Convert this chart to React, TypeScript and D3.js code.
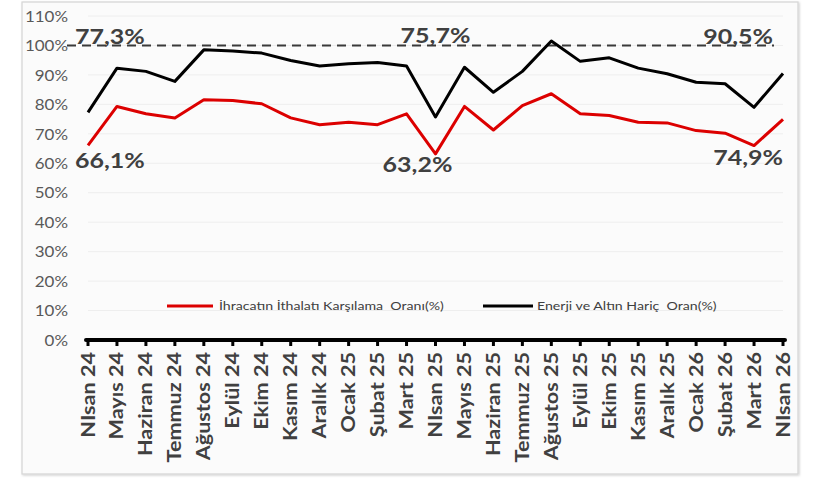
import React from "react";
import * as d3 from "d3";

const categories = [
  "NIsan 24", "Mayıs 24", "Haziran 24", "Temmuz 24", "Ağustos 24", "Eylül 24",
  "Ekim 24", "Kasım 24", "Aralık 24", "Ocak 25", "Şubat 25", "Mart 25",
  "NIsan 25", "Mayıs 25", "Haziran 25", "Temmuz 25", "Ağustos 25", "Eylül 25",
  "Ekim 25", "Kasım 25", "Aralık 25", "Ocak 26", "Şubat 26", "Mart 26", "NIsan 26",
];

const ihracatOrani = [
  66.1, 79.3, 76.8, 75.4, 81.6, 81.3, 80.2, 75.4, 73.1, 73.9, 73.1, 76.8,
  63.2, 79.3, 71.3, 79.6, 83.6, 76.8, 76.2, 73.9, 73.7, 71.1, 70.2, 66.0, 74.9,
];

const enerjiAltinHaricOrani = [
  77.3, 92.3, 91.2, 87.8, 98.5, 98.1, 97.4, 94.9, 93.0, 93.8, 94.2, 93.0,
  75.7, 92.6, 84.1, 91.2, 101.5, 94.6, 95.8, 92.3, 90.4, 87.5, 87.0, 79.0, 90.5,
];

const yTicks = [0, 10, 20, 30, 40, 50, 60, 70, 80, 90, 100, 110];
const referenceLevel = 100;

const seriesNames = ["İhracatın İthalatı Karşılama  Oranı(%)", "Enerji ve Altın Hariç  Oran(%)"];

const labelledIndices = [0, 12, 24];
const labelTexts = [
  ["66,1%", "63,2%", "74,9%"],
  ["77,3%", "75,7%", "90,5%"],
];

// layout of the data labels (offsets in px from the point / baseline), not data
const labelLayout = [
  [
    { dx: -13, baseline: 168, anchor: "start" },
    { dx: -18, baseline: 172, anchor: "middle" },
    { dx: 0, baseline: 165, anchor: "end" },
  ],
  [
    { dx: -13, baseline: 44, anchor: "start" },
    { dx: 0, baseline: 43, anchor: "middle" },
    { dx: -10, baseline: 44, anchor: "end" },
  ],
];

const W = 813;
const H = 478;
const FONT = "Lato, 'Open Sans', sans-serif";

export default function App() {
  const x = d3.scalePoint<string>().domain(categories).range([88, 783]);
  const y = d3.scaleLinear().domain([0, 110]).range([340, 16]);

  const line = d3
    .line<number>()
    .x((_, i) => x(categories[i]) as number)
    .y((d) => y(d));

  const series = [ihracatOrani, enerjiAltinHaricOrani];
  const colors = ["#dc0000", "#000000"];

  return (
    <div style={{ position: "fixed", left: 0, top: 0, width: W, height: H, background: "#ffffff" }}>
      <svg width={W} height={H} style={{ display: "block" }}>
        <defs>
          <filter id="sh" x="-5%" y="-5%" width="110%" height="110%">
            <feDropShadow dx="1" dy="1" stdDeviation="1.2" floodColor="#000" floodOpacity="0.18" />
          </filter>
        </defs>
        <rect x={22} y={2} width={776} height={472} fill="#fbfbfb" stroke="#d4d4d4" strokeWidth={1.2} filter="url(#sh)" />

        {/* gridlines */}
        {yTicks.map((t) => (
          <line key={"g" + t} x1={88} x2={783} y1={y(t)} y2={y(t)} stroke="#eeeeee" strokeWidth={1} />
        ))}

        {/* y tick labels */}
        {yTicks.map((t) => (
          <text
            key={"yl" + t}
            transform={`translate(68,${y(t)}) scale(1.06,1)`}
            dy="0.36em"
            textAnchor="end"
            fontFamily={FONT}
            fontSize={16}
            fill="#595959"
          >
            {t + "%"}
          </text>
        ))}

        {/* reference dashed line at 100% */}
        <line
          x1={67}
          x2={774}
          y1={y(referenceLevel)}
          y2={y(referenceLevel)}
          stroke="#3a3a3a"
          strokeWidth={2}
          strokeDasharray="9,6"
        />

        {/* x axis */}
        <line x1={86} x2={785} y1={y(0)} y2={y(0)} stroke="#000" strokeWidth={4} strokeLinecap="round" />
        {categories.map((c) => (
          <line key={"t" + c} x1={x(c)} x2={x(c)} y1={y(0)} y2={y(0) + 6} stroke="#000" strokeWidth={3} />
        ))}
        {categories.map((c) => (
          <text
            key={"xl" + c}
            transform={`translate(${(x(c) as number) + 6.5},${y(0) + 12}) rotate(-90) scale(1.2,1)`}
            textAnchor="end"
            fontFamily={FONT}
            fontWeight={700}
            fontSize={18}
            fill="#404040"
          >
            {c}
          </text>
        ))}

        {/* series lines */}
        {series.map((s, k) => (
          <path key={"s" + k} d={line(s) || ""} fill="none" stroke={colors[k]} strokeWidth={3} strokeLinejoin="round" />
        ))}

        {/* data labels */}
        {series.map((s, k) =>
          labelledIndices.map((idx, j) => {
            const lay = labelLayout[k][j];
            const px = (x(categories[idx]) as number) + lay.dx;
            return (
              <text
                key={"dl" + k + "-" + j}
                transform={`translate(${px},${lay.baseline}) scale(1.25,1)`}
                textAnchor={lay.anchor}
                fontFamily={FONT}
                fontWeight={700}
                fontSize={20}
                fill="#404040"
              >
                {labelTexts[k][j]}
              </text>
            );
          })
        )}

        {/* legend */}
        <line x1={167} x2={213} y1={306} y2={306} stroke={colors[0]} strokeWidth={3} />
        <text
          transform="translate(219,306) scale(1.18,1)"
          dy="0.35em"
          fontFamily={FONT}
          fontSize={12}
          fill="#404040"
          style={{ whiteSpace: "pre" }}
        >
          {seriesNames[0]}
        </text>
        <line x1={483} x2={533} y1={306} y2={306} stroke={colors[1]} strokeWidth={3} />
        <text
          transform="translate(537,306) scale(1.18,1)"
          dy="0.35em"
          fontFamily={FONT}
          fontSize={12}
          fill="#404040"
          style={{ whiteSpace: "pre" }}
        >
          {seriesNames[1]}
        </text>
      </svg>
    </div>
  );
}
